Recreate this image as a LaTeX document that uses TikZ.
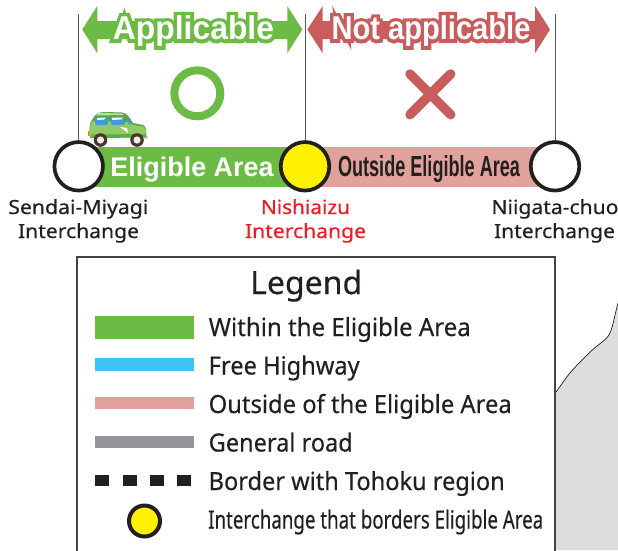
\documentclass[tikz,border=0pt]{standalone}
\usepackage{fontspec}
\usepackage{graphicx}
\setmainfont{Noto Sans}
\newfontfamily\midf[FakeBold=0.3]{Noto Sans}
\newfontfamily\heavyf{Liberation Sans}
\newfontfamily\halof[BoldFeatures={FakeBold=22}]{Liberation Sans}
\definecolor{okgreen}{HTML}{6CBB45}
\definecolor{nored}{HTML}{C95C5C}
\definecolor{pinkband}{HTML}{E2A29C}
\definecolor{skyband}{HTML}{3EC4F4}
\definecolor{greyband}{HTML}{939598}
\definecolor{inkblack}{HTML}{231F20}
\definecolor{icyellow}{HTML}{FFF100}
\definecolor{icred}{HTML}{ED1C24}
\definecolor{landgrey}{HTML}{DCDDDE}
\definecolor{carbody}{HTML}{8FCB68}
\definecolor{cardark}{HTML}{55A844}
\definecolor{carglass}{HTML}{3F9BE0}
\newcommand{\fitw}[2]{\resizebox{#1pt}{\height}{#2}}
\newcommand{\halotext}[4]{\resizebox{#1pt}{\height}{\fontsize{#2pt}{#2pt}\selectfont\rlap{\halof\bfseries\color{#3}#4}{\heavyf\bfseries\color{white}#4}}}
\tikzset{
  ic/.style={circle,draw=inkblack,line width=3.7pt,fill=white,minimum size=48.5pt,inner sep=0pt},
  smallic/.style={circle,draw=inkblack,line width=4pt,fill=icyellow,minimum size=31pt,inner sep=0pt},
  guide/.style={draw=black!65,line width=0.9pt},
  band/.style={minimum height=40pt,inner sep=0pt,outer sep=0pt},
  lbl/.style={anchor=base,inner sep=0pt,font=\fontsize{19.5pt}{19.5pt}\selectfont\midf},
  legtxt/.style={anchor=base west,inner sep=0pt,text=inkblack,font=\fontsize{25pt}{25pt}\selectfont\midf},
  swatch/.style={inner sep=0pt,outer sep=0pt,anchor=north west,minimum width=99pt},
  dashbox/.style={fill=inkblack,inner sep=0pt,anchor=north west,minimum width=14pt,minimum height=11pt},
}
\begin{document}
\begin{tikzpicture}[x=1pt,y=-1pt]
\useasboundingbox (0,0) rectangle (618,550);
\clip (0,0) rectangle (618,550);
% land
\fill[landgrey] (556,392) -- (566,378) .. controls (572,370) and (577,365) .. (590,352) .. controls (600,343) and (606,340) .. (609,335) .. controls (613,327) and (614,318) .. (618,303) -- (618,550) -- (556,550) -- cycle;
\draw[inkblack,line width=0.7pt] (556,392) -- (566,378) .. controls (572,370) and (577,365) .. (590,352) .. controls (600,343) and (606,340) .. (609,335) .. controls (613,327) and (614,318) .. (618,303);
% legend frame
\draw[draw=inkblack!85,line width=1.1pt,fill=white] (77,560) -- (77,257) -- (555,257) -- (555,560);
% arrows
\fill[okgreen] (82.3,29.5) -- (97.3,6) -- (97.3,21) -- (287.3,21) -- (287.3,6) -- (302.3,29.5) -- (287.3,53.3) -- (287.3,39) -- (97.3,39) -- (97.3,53.3) -- cycle;
\fill[nored] (307.3,29.5) -- (322.7,6) -- (322.7,21) -- (535,21) -- (535,6) -- (550,29.5) -- (535,53.3) -- (535,39) -- (322.7,39) -- (322.7,53.3) -- cycle;
\node[anchor=base,inner sep=0pt] (app) at (193.5,39.5) {\halotext{161}{33}{okgreen}{Applicable}};
\node[anchor=base,inner sep=0pt] (nap) at (431,39.5) {\halotext{199}{33}{nored}{Not applicable}};
% bands
\node[band,fill=okgreen,minimum width=227pt] (gband) at (191.85,167) {};
\node[band,fill=pinkband,minimum width=250pt] (pband) at (430,167) {};
\node[anchor=base,inner sep=0pt] (gtxt) at (192,176.5) {\fitw{163}{\fontsize{27pt}{27pt}\selectfont\heavyf\bfseries\color{white}Eligible Area}};
\node[anchor=base,inner sep=0pt] (ptxt) at (429,176.5) {\fitw{182}{\fontsize{29pt}{29pt}\selectfont\heavyf\bfseries\color{inkblack}Outside Eligible Area}};
% interchanges
\node[ic] (sm) at (78.7,166.3) {};
\node[ic,fill=icyellow] (ni) at (305,166.3) {};
\node[ic] (nc) at (555,166.3) {};
\coordinate (t1) at (78.7,14);
\coordinate (t2) at (305,14);
\coordinate (t3) at (555,14);
\draw[guide] (sm.north) -- (t1);
\draw[guide] (ni.north) -- (t2);
\draw[guide] (nc.north) -- (t3);
% marks
\node[circle,draw=okgreen,line width=8pt,minimum size=46pt,inner sep=0pt] (oh) at (197.3,93.3) {};
\draw[nored,line width=9.5pt,line cap=round] (410,74) -- (450.7,114.7);
\draw[nored,line width=9.5pt,line cap=round] (450.7,74) -- (410,114.7);
% car
\fill[orange!90!red] (87.5,131) rectangle (90,136);
\fill[white!70!gray] (144,136) rectangle (147.5,139);
\fill[cardark] (90,134) .. controls (89,126) and (90,122) .. (92,120) .. controls (95,114) and (98,112) .. (105,112) -- (122,112.5) .. controls (127,113) and (129,117) .. (133,123) -- (143,125) .. controls (146,126) and (146.5,130) .. (146.5,137) -- (90,138) -- cycle;
\fill[carbody] (89.5,135) .. controls (89,128) and (90,123) .. (93,121) -- (130,122) -- (133,125) -- (143,126.5) .. controls (145.5,127) and (146,131) .. (146,136.5) -- (92,138) -- cycle;
\fill[carbody!60!white] (98,113) -- (122,113.5) -- (124,115) -- (96,115.5) -- cycle;
\fill[carglass,rounded corners=1.5pt] (95.5,118) -- (107.5,117) -- (108,125) -- (95,125) -- cycle;
\fill[carglass,rounded corners=1.5pt] (111,117) -- (124,117) -- (125.5,124.5) -- (111,125) -- cycle;
\fill[carglass] (127.5,118) -- (132,124) -- (128,124.5) -- cycle;
\fill[white] (97,118) -- (106,117.5) -- (104,119.5) -- (97,120) -- cycle;
\fill[white] (112,117.5) -- (123,117.5) -- (121,119.5) -- (112,120) -- cycle;
\fill[white] (120,127) -- (127,128) -- (128,133) -- cycle;
\fill[cardark!85!carbody] (91,134.5) -- (146,134) -- (146,137.5) -- (92,138) -- cycle;
\foreach \wx in {100.5,137}{
  \fill[inkblack!75!brown] (\wx,140) circle[radius=6.8];
  \fill[white!85!gray] (\wx,140) circle[radius=3.6];
}
% interchange labels
\node[lbl,text=inkblack] (l1a) at (78.3,214) {\fitw{140}{Sendai-Miyagi}};
\node[lbl,text=inkblack] (l1b) at (78.5,238) {\fitw{121}{Interchange}};
\node[lbl,text=icred] (l2a) at (305.5,214) {\fitw{89}{Nishiaizu}};
\node[lbl,text=icred] (l2b) at (305.5,238) {\fitw{121}{Interchange}};
\node[lbl,text=inkblack] (l3a) at (555,214) {\fitw{127}{Niigata-chuo}};
\node[lbl,text=inkblack] (l3b) at (554.5,238) {\fitw{121}{Interchange}};
% legend
\node[anchor=base west,inner sep=0pt,text=inkblack] (ltitle) at (250,294) {\fitw{112}{\fontsize{32pt}{32pt}\selectfont\midf Legend}};
\node[swatch,fill=okgreen,minimum height=23pt] (s1) at (95,316) {};
\node[swatch,fill=skyband,minimum height=13pt] (s2) at (95,358) {};
\node[swatch,fill=pinkband,minimum height=12pt] (s3) at (95,397) {};
\node[swatch,fill=greyband,minimum height=12pt] (s4) at (95,436) {};
\node[dashbox] (d1) at (95,475) {};
\node[dashbox] (d2) at (122.5,475) {};
\node[dashbox] (d3) at (150,475) {};
\node[dashbox] (d4) at (177,475) {};
\node[smallic] (s6) at (144.5,521) {};
\node[legtxt] (t1l) at (208.5,336) {\fitw{262}{Within the Eligible Area}};
\node[legtxt] (t2l) at (208.5,374.5) {\fitw{151}{Free Highway}};
\node[legtxt] (t3l) at (208.5,413) {\fitw{303}{Outside of the Eligible Area}};
\node[legtxt] (t4l) at (208.5,451.5) {\fitw{144}{General road}};
\node[legtxt] (t5l) at (208.5,490) {\fitw{296}{Border with Tohoku region}};
\node[legtxt] (t6l) at (208,528.5) {\fitw{335}{Interchange that borders Eligible Area}};
\end{tikzpicture}
\end{document}
